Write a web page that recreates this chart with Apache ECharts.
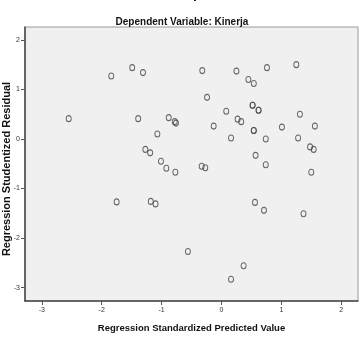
<!DOCTYPE html>
<html>
<head>
<meta charset="utf-8">
<script src="https://cdn.jsdelivr.net/npm/echarts@6/dist/echarts.min.js"></script>
<style>
  html, body { margin: 0; padding: 0; background: #fff; }
  #scatterChart { width: 364px; height: 340px; }
</style>
</head>
<body>
<div id="scatterChart"></div>
<script>
// Scatterplot - Dependent Variable: Kinerja
// standardized predicted value (x) vs studentized residual (y)
const predicted = [
  -2.55, -1.84, -1.75, -1.49, -1.31, -1.39, -0.88, -0.78, -0.76, -1.07,
  -1.27, -1.19, -1.01, -0.92, -0.77, -1.18, -1.10, -0.56, -0.33, -0.27,
  -0.32, -0.24, -0.13, 0.08, 0.16, 0.16, 0.25, 0.27, 0.33, 0.37,
  0.45, 0.54, 0.52, 0.52, 0.62, 0.62, 0.54, 0.54, 0.57, 0.56,
  0.71, 0.74, 0.74, 0.76, 1.01, 1.25, 1.28, 1.31, 1.37, 1.48,
  1.54, 1.50, 1.56
];
const residual = [
  0.41, 1.27, -1.27, 1.44, 1.34, 0.41, 0.43, 0.35, 0.32, 0.10,
  -0.21, -0.28, -0.45, -0.59, -0.67, -1.26, -1.31, -2.27, -0.55, -0.58,
  1.38, 0.84, 0.26, 0.56, 0.02, -2.83, 1.37, 0.40, 0.35, -2.56,
  1.20, 1.12, 0.68, 0.68, 0.58, 0.58, 0.17, 0.17, -0.33, -1.28,
  -1.44, -0.52, 0.00, 1.44, 0.24, 1.50, 0.02, 0.50, -1.51, -0.16,
  -0.21, -0.67, 0.26
];
const xTicks = [-3, -2, -1, 0, 1, 2];
const yTicks = [-3, -2, -1, 0, 1, 2];

const points = predicted.map((v, i) => [v, residual[i]]);

const tickLabel = {
  color: '#333',
  fontSize: 7,
  fontFamily: 'Liberation Sans',
};

const option = {
  animation: false,
  backgroundColor: '#fff',
  title: [
    {
      text: 'Scatterplot',
      left: 'center',
      top: -18,
      textStyle: { fontFamily: 'Liberation Sans', fontWeight: 'bold', fontSize: 14, color: '#111' },
    },
    {
      text: 'Dependent Variable: Kinerja',
      left: 'center',
      top: 12,
      textStyle: { fontFamily: 'Liberation Sans', fontWeight: 'bold', fontSize: 10, color: '#111' },
    },
  ],
  grid: {
    show: true,
    left: 25,
    right: 6,
    top: 27,
    bottom: 39,
    outerBoundsMode: 'none',
    containLabel: false,
    backgroundColor: '#f0f0f0',
    borderColor: '#9a9a9a',
    borderWidth: 1,
  },
  xAxis: {
    type: 'value',
    min: -3.28,
    max: 2.28,
    name: 'Regression Standardized Predicted Value',
    nameLocation: 'middle',
    nameGap: 22,
    nameMoveOverlap: false,
    nameTextStyle: { fontFamily: 'Liberation Sans', fontWeight: 'bold', fontSize: 9.5, color: '#111' },
    axisLine: { show: true, onZero: false, lineStyle: { color: '#444', width: 1.5 } },
    axisTick: { show: true, length: 4, customValues: xTicks, lineStyle: { color: '#555' } },
    axisLabel: { ...tickLabel, margin: 6, customValues: xTicks },
    splitLine: { show: false },
  },
  yAxis: {
    type: 'value',
    min: -3.27,
    max: 2.26,
    name: 'Regression Studentized Residual',
    nameLocation: 'middle',
    nameGap: 13,
    nameMoveOverlap: false,
    nameTextStyle: {
      fontFamily: 'Liberation Sans', fontWeight: 'bold', fontSize: 11, color: '#111',
      padding: [0, 10, 0, 0],
    },
    axisLine: { show: true, onZero: false, lineStyle: { color: '#444', width: 1.5 } },
    axisTick: { show: true, length: 4, customValues: yTicks, lineStyle: { color: '#555' } },
    axisLabel: { ...tickLabel, margin: 5, customValues: yTicks },
    splitLine: { show: false },
  },
  series: [
    {
      type: 'scatter',
      data: points,
      symbol: 'circle',
      symbolSize: [5, 6],
      itemStyle: {
        color: 'rgba(0,0,0,0)',
        borderColor: '#444',
        borderWidth: 1,
      },
    },
  ],
};

const chart = echarts.init(document.getElementById('scatterChart'));
chart.setOption(option);
</script>
</body>
</html>
